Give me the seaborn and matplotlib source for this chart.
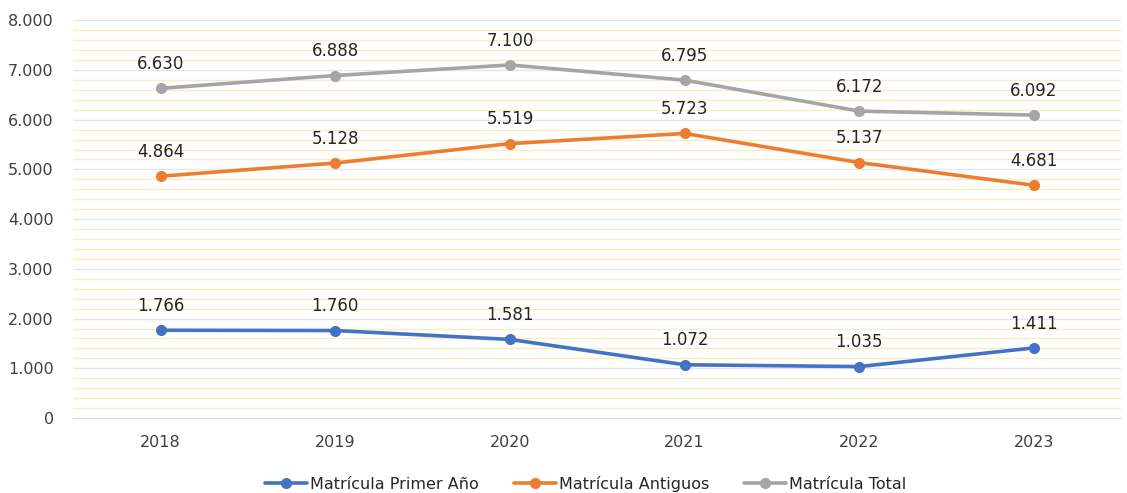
import matplotlib.pyplot as plt
import numpy as np
import pandas as pd
import seaborn as sns
from matplotlib.lines import Line2D
from matplotlib.ticker import FuncFormatter, MultipleLocator

years = ["2018", "2019", "2020", "2021", "2022", "2023"]
primer_anio = [1766, 1760, 1581, 1072, 1035, 1411]
antiguos = [4864, 5128, 5519, 5723, 5137, 4681]
total = [6630, 6888, 7100, 6795, 6172, 6092]

series_names = ["Matrícula Primer Año", "Matrícula Antiguos", "Matrícula Total"]
colors = ["#4472C4", "#ED7D31", "#A5A5A5"]


def fmt_es(v):
    # Spanish style thousands separator
    return f"{int(v):,}".replace(",", ".")


df = pd.DataFrame(
    {
        "Año": years * 3,
        "Valor": primer_anio + antiguos + total,
        "Serie": np.repeat(series_names, len(years)),
    }
)
df["x"] = df["Año"].map({y: i for i, y in enumerate(years)})

sns.set_style("white")
plt.rcParams["font.family"] = ["DejaVu Sans"]

fig = plt.figure(figsize=(11.27, 4.93), dpi=100)
ax = fig.add_axes([0.065, 0.152, 0.93, 0.807])

sns.lineplot(
    data=df,
    x="x",
    y="Valor",
    hue="Serie",
    palette=colors,
    marker="o",
    markersize=8,
    markeredgewidth=0,
    linewidth=2.6,
    ax=ax,
    zorder=3,
    legend=False,
)

for name, vals in zip(series_names, [primer_anio, antiguos, total]):
    for i, v in enumerate(vals):
        ax.annotate(
            fmt_es(v),
            (i, v),
            xytext=(0, 11),
            textcoords="offset points",
            ha="center",
            va="bottom",
            fontsize=12,
            color="#262626",
        )

ax.set_xlim(-0.5, len(years) - 0.5)
ax.set_ylim(0, 8000)
ax.set_xticks(range(len(years)))
ax.set_xticklabels(years)
ax.yaxis.set_major_locator(MultipleLocator(1000))
ax.yaxis.set_minor_locator(MultipleLocator(200))
ax.yaxis.set_major_formatter(FuncFormatter(lambda v, p: fmt_es(v)))
ax.grid(which="minor", axis="y", color="#FBEBC0", linewidth=1.0)
ax.grid(which="major", axis="y", color="#E6E6E6", linewidth=1.0)
ax.set_axisbelow(True)
ax.tick_params(axis="both", which="both", length=0, labelsize=11.5, colors="#404040")
ax.tick_params(axis="y", pad=14)
ax.tick_params(axis="x", pad=12)
ax.set_xlabel("")
ax.set_ylabel("")
for side in ["top", "right", "left"]:
    ax.spines[side].set_visible(False)
ax.spines["bottom"].set_color("#D9D9D9")

handles = [
    Line2D([], [], color=c, linewidth=2.6, marker="o", markersize=8, markeredgewidth=0)
    for c in colors
]
ax.legend(
    handles,
    series_names,
    loc="center",
    bbox_to_anchor=(0.489, -0.165),
    ncol=3,
    frameon=False,
    fontsize=11.5,
    handlelength=2.6,
    columnspacing=2.2,
    handletextpad=0.2,
)

fig.savefig("out.png", dpi=100)
